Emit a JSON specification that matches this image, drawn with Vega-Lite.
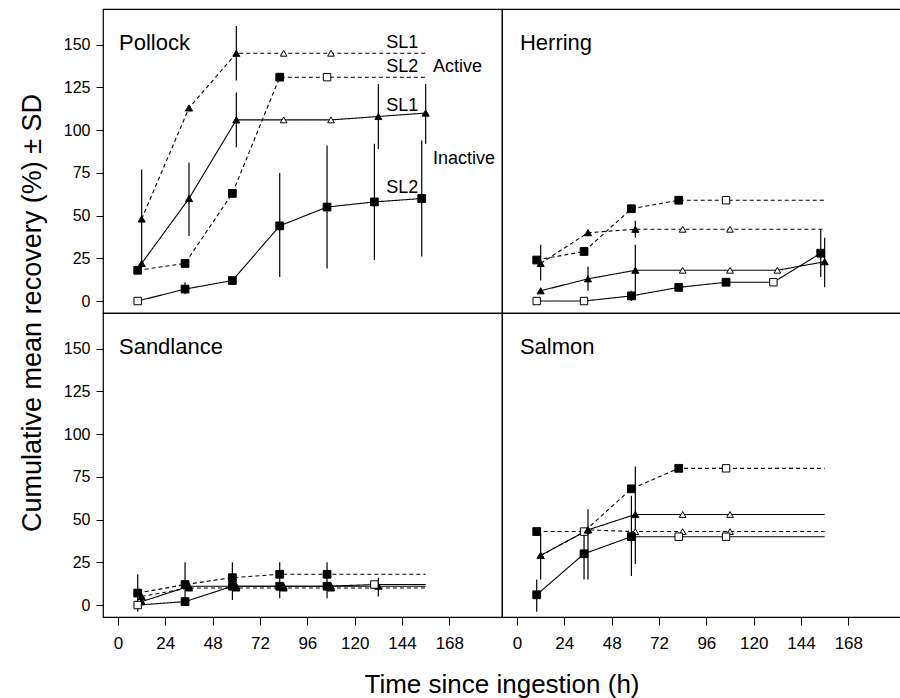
{
  "$schema": "https://vega.github.io/schema/vega-lite/v6.json",
  "background": "white",
  "padding": {"left": 18, "top": 8, "right": 0, "bottom": 0},
  "bounds": "flush",
  "config": {
    "font": "Liberation Sans",
    "view": {"stroke": "black", "strokeWidth": 1.2},
    "axis": {"grid": false, "domain": false, "tickColor": "black", "labelColor": "black", "labelFont": "Liberation Sans"},
    "axisX": {"tickSize": 8, "labelPadding": 10, "labelFontSize": 17},
    "axisY": {"tickSize": 7, "labelPadding": 6, "labelFontSize": 16},
    "header": {"titleFont": "Liberation Sans", "titleFontWeight": "normal", "titleFontSize": 26, "titleColor": "black"}
  },
  "data": {"values": [
    {"r":1,"c":1,"s":"SL1A","st":"A","t":12,"v":48,"lo":20,"hi":77,"m":"tri"},
    {"r":1,"c":1,"s":"SL1A","st":"A","t":36,"v":113,"m":"tri"},
    {"r":1,"c":1,"s":"SL1A","st":"A","t":60,"v":145,"lo":129,"hi":161,"m":"tri"},
    {"r":1,"c":1,"s":"SL1A","st":"A","t":84,"v":145,"m":"trio"},
    {"r":1,"c":1,"s":"SL1A","st":"A","t":108,"v":145,"m":"trio"},
    {"r":1,"c":1,"s":"SL1A","st":"A","t":156,"v":145,"m":"none"},
    {"r":1,"c":1,"s":"SL2A","st":"A","t":10,"v":18,"m":"sq"},
    {"r":1,"c":1,"s":"SL2A","st":"A","t":34,"v":22,"m":"sq"},
    {"r":1,"c":1,"s":"SL2A","st":"A","t":58,"v":63,"m":"sq"},
    {"r":1,"c":1,"s":"SL2A","st":"A","t":82,"v":131,"m":"sq"},
    {"r":1,"c":1,"s":"SL2A","st":"A","t":106,"v":131,"m":"sqo"},
    {"r":1,"c":1,"s":"SL2A","st":"A","t":156,"v":131,"m":"none"},
    {"r":1,"c":1,"s":"SL1I","st":"I","t":12,"v":22,"m":"tri"},
    {"r":1,"c":1,"s":"SL1I","st":"I","t":36,"v":60,"lo":38,"hi":81,"m":"tri"},
    {"r":1,"c":1,"s":"SL1I","st":"I","t":60,"v":106,"lo":90,"hi":122,"m":"tri"},
    {"r":1,"c":1,"s":"SL1I","st":"I","t":84,"v":106,"m":"trio"},
    {"r":1,"c":1,"s":"SL1I","st":"I","t":108,"v":106,"m":"trio"},
    {"r":1,"c":1,"s":"SL1I","st":"I","t":132,"v":108,"lo":89,"hi":127,"m":"tri"},
    {"r":1,"c":1,"s":"SL1I","st":"I","t":156,"v":110,"lo":92,"hi":127,"m":"tri"},
    {"r":1,"c":1,"s":"SL2I","st":"I","t":10,"v":0,"m":"sqo"},
    {"r":1,"c":1,"s":"SL2I","st":"I","t":34,"v":7,"lo":4,"hi":11,"m":"sq"},
    {"r":1,"c":1,"s":"SL2I","st":"I","t":58,"v":12,"m":"sq"},
    {"r":1,"c":1,"s":"SL2I","st":"I","t":82,"v":44,"lo":14,"hi":75,"m":"sq"},
    {"r":1,"c":1,"s":"SL2I","st":"I","t":106,"v":55,"lo":19,"hi":91,"m":"sq"},
    {"r":1,"c":1,"s":"SL2I","st":"I","t":130,"v":58,"lo":24,"hi":92,"m":"sq"},
    {"r":1,"c":1,"s":"SL2I","st":"I","t":154,"v":60,"lo":26,"hi":94,"m":"sq"},

    {"r":1,"c":2,"s":"SL2A","st":"A","t":10,"v":24,"m":"sq"},
    {"r":1,"c":2,"s":"SL2A","st":"A","t":34,"v":29,"m":"sq"},
    {"r":1,"c":2,"s":"SL2A","st":"A","t":58,"v":54,"m":"sq"},
    {"r":1,"c":2,"s":"SL2A","st":"A","t":82,"v":59,"m":"sq"},
    {"r":1,"c":2,"s":"SL2A","st":"A","t":106,"v":59,"m":"sqo"},
    {"r":1,"c":2,"s":"SL2A","st":"A","t":156,"v":59,"m":"none"},
    {"r":1,"c":2,"s":"SL1A","st":"A","t":12,"v":22,"lo":12,"hi":33,"m":"tri"},
    {"r":1,"c":2,"s":"SL1A","st":"A","t":36,"v":40,"m":"tri"},
    {"r":1,"c":2,"s":"SL1A","st":"A","t":60,"v":42,"lo":37,"hi":47,"m":"tri"},
    {"r":1,"c":2,"s":"SL1A","st":"A","t":84,"v":42,"m":"trio"},
    {"r":1,"c":2,"s":"SL1A","st":"A","t":108,"v":42,"m":"trio"},
    {"r":1,"c":2,"s":"SL1A","st":"A","t":156,"v":42,"m":"none"},
    {"r":1,"c":2,"s":"SL1I","st":"I","t":12,"v":6,"m":"tri"},
    {"r":1,"c":2,"s":"SL1I","st":"I","t":36,"v":13,"lo":6,"hi":20,"m":"tri"},
    {"r":1,"c":2,"s":"SL1I","st":"I","t":60,"v":18,"lo":1,"hi":33,"m":"tri"},
    {"r":1,"c":2,"s":"SL1I","st":"I","t":84,"v":18,"m":"trio"},
    {"r":1,"c":2,"s":"SL1I","st":"I","t":108,"v":18,"m":"trio"},
    {"r":1,"c":2,"s":"SL1I","st":"I","t":132,"v":18,"m":"trio"},
    {"r":1,"c":2,"s":"SL1I","st":"I","t":156,"v":23,"lo":8,"hi":37,"m":"tri"},
    {"r":1,"c":2,"s":"SL2I","st":"I","t":10,"v":0,"m":"sqo"},
    {"r":1,"c":2,"s":"SL2I","st":"I","t":34,"v":0,"m":"sqo"},
    {"r":1,"c":2,"s":"SL2I","st":"I","t":58,"v":3,"lo":0,"hi":6,"m":"sq"},
    {"r":1,"c":2,"s":"SL2I","st":"I","t":82,"v":8,"m":"sq"},
    {"r":1,"c":2,"s":"SL2I","st":"I","t":106,"v":11,"m":"sq"},
    {"r":1,"c":2,"s":"SL2I","st":"I","t":130,"v":11,"m":"sqo"},
    {"r":1,"c":2,"s":"SL2I","st":"I","t":154,"v":28,"lo":14,"hi":42,"m":"sq"},

    {"r":2,"c":1,"s":"SL2A","st":"A","t":10,"v":7,"lo":-4,"hi":18,"m":"sq"},
    {"r":2,"c":1,"s":"SL2A","st":"A","t":34,"v":12,"lo":1,"hi":25,"m":"sq"},
    {"r":2,"c":1,"s":"SL2A","st":"A","t":58,"v":16,"lo":3,"hi":25,"m":"sq"},
    {"r":2,"c":1,"s":"SL2A","st":"A","t":82,"v":18,"lo":4,"hi":25,"m":"sq"},
    {"r":2,"c":1,"s":"SL2A","st":"A","t":106,"v":18,"lo":4,"hi":25,"m":"sq"},
    {"r":2,"c":1,"s":"SL2A","st":"A","t":156,"v":18,"m":"none"},
    {"r":2,"c":1,"s":"SL1A","st":"A","t":12,"v":5,"m":"tri"},
    {"r":2,"c":1,"s":"SL1A","st":"A","t":36,"v":10,"m":"tri"},
    {"r":2,"c":1,"s":"SL1A","st":"A","t":60,"v":10,"m":"tri"},
    {"r":2,"c":1,"s":"SL1A","st":"A","t":84,"v":10,"m":"tri"},
    {"r":2,"c":1,"s":"SL1A","st":"A","t":108,"v":10,"m":"tri"},
    {"r":2,"c":1,"s":"SL1A","st":"A","t":156,"v":10,"m":"none"},
    {"r":2,"c":1,"s":"SL1I","st":"I","t":12,"v":2,"m":"tri"},
    {"r":2,"c":1,"s":"SL1I","st":"I","t":36,"v":11,"m":"tri"},
    {"r":2,"c":1,"s":"SL1I","st":"I","t":60,"v":11,"m":"tri"},
    {"r":2,"c":1,"s":"SL1I","st":"I","t":84,"v":11,"m":"tri"},
    {"r":2,"c":1,"s":"SL1I","st":"I","t":108,"v":11,"m":"tri"},
    {"r":2,"c":1,"s":"SL1I","st":"I","t":132,"v":11,"lo":5,"hi":16,"m":"tri"},
    {"r":2,"c":1,"s":"SL1I","st":"I","t":156,"v":11,"m":"none"},
    {"r":2,"c":1,"s":"SL2I","st":"I","t":10,"v":0,"m":"sqo"},
    {"r":2,"c":1,"s":"SL2I","st":"I","t":34,"v":2,"m":"sq"},
    {"r":2,"c":1,"s":"SL2I","st":"I","t":58,"v":11,"m":"sq"},
    {"r":2,"c":1,"s":"SL2I","st":"I","t":82,"v":11,"m":"sq"},
    {"r":2,"c":1,"s":"SL2I","st":"I","t":106,"v":11,"m":"sq"},
    {"r":2,"c":1,"s":"SL2I","st":"I","t":130,"v":12,"m":"sqo"},
    {"r":2,"c":1,"s":"SL2I","st":"I","t":156,"v":12,"m":"none"},

    {"r":2,"c":2,"s":"SL2A","st":"A","t":10,"v":43,"m":"sq"},
    {"r":2,"c":2,"s":"SL2A","st":"A","t":34,"v":43,"m":"sqo"},
    {"r":2,"c":2,"s":"SL2A","st":"A","t":58,"v":68,"m":"sq"},
    {"r":2,"c":2,"s":"SL2A","st":"A","t":82,"v":80,"m":"sq"},
    {"r":2,"c":2,"s":"SL2A","st":"A","t":106,"v":80,"m":"sqo"},
    {"r":2,"c":2,"s":"SL2A","st":"A","t":156,"v":80,"m":"none"},
    {"r":2,"c":2,"s":"SL1A","st":"A","t":12,"v":29,"m":"tri"},
    {"r":2,"c":2,"s":"SL1A","st":"A","t":36,"v":44,"m":"tri"},
    {"r":2,"c":2,"s":"SL1A","st":"A","t":60,"v":43,"m":"trio"},
    {"r":2,"c":2,"s":"SL1A","st":"A","t":84,"v":43,"m":"trio"},
    {"r":2,"c":2,"s":"SL1A","st":"A","t":108,"v":43,"m":"trio"},
    {"r":2,"c":2,"s":"SL1A","st":"A","t":156,"v":43,"m":"none"},
    {"r":2,"c":2,"s":"SL1I","st":"I","t":12,"v":29,"lo":15,"hi":42,"m":"tri"},
    {"r":2,"c":2,"s":"SL1I","st":"I","t":36,"v":44,"lo":15,"hi":56,"m":"tri"},
    {"r":2,"c":2,"s":"SL1I","st":"I","t":60,"v":53,"lo":24,"hi":81,"m":"tri"},
    {"r":2,"c":2,"s":"SL1I","st":"I","t":84,"v":53,"m":"trio"},
    {"r":2,"c":2,"s":"SL1I","st":"I","t":108,"v":53,"m":"trio"},
    {"r":2,"c":2,"s":"SL1I","st":"I","t":156,"v":53,"m":"none"},
    {"r":2,"c":2,"s":"SL2I","st":"I","t":10,"v":6,"lo":-4,"hi":15,"m":"sq"},
    {"r":2,"c":2,"s":"SL2I","st":"I","t":34,"v":30,"lo":15,"hi":43,"m":"sq"},
    {"r":2,"c":2,"s":"SL2I","st":"I","t":58,"v":40,"lo":17,"hi":64,"m":"sq"},
    {"r":2,"c":2,"s":"SL2I","st":"I","t":82,"v":40,"m":"sqo"},
    {"r":2,"c":2,"s":"SL2I","st":"I","t":106,"v":40,"m":"sqo"},
    {"r":2,"c":2,"s":"SL2I","st":"I","t":156,"v":40,"m":"none"},

    {"r":1,"c":1,"lab":"Pollock","t":0.5,"v":151},
    {"r":1,"c":2,"lab":"Herring","t":1.5,"v":151},
    {"r":2,"c":1,"lab":"Sandlance","t":0.5,"v":151},
    {"r":2,"c":2,"lab":"Salmon","t":1.5,"v":151},

    {"r":1,"c":1,"ann":"SL1","t":136,"v":151},
    {"r":1,"c":1,"ann":"SL2","t":136,"v":137},
    {"r":1,"c":1,"ann":"Active","t":159.7,"v":137},
    {"r":1,"c":1,"ann":"SL1","t":136,"v":114},
    {"r":1,"c":1,"ann":"Inactive","t":159.7,"v":83},
    {"r":1,"c":1,"ann":"SL2","t":136,"v":66}
  ]},
  "facet": {
    "row": {"field": "r", "type": "ordinal", "header": {"labels": false, "title": "Cumulative mean recovery (%) ± SD", "titleOrient": "left", "titlePadding": 6, "titleFontSize": 27}},
    "column": {"field": "c", "type": "ordinal", "header": {"labels": false, "title": "Time since ingestion (h)", "titleOrient": "bottom", "labelOrient": "bottom", "titlePadding": 11}}
  },
  "spacing": {"row": 0, "column": 0},
  "spec": {
    "width": 399,
    "height": 304,
    "layer": [
      {
        "transform": [{"filter": "isValid(datum.lo)"}],
        "mark": {"type": "rule", "color": "black", "strokeWidth": 1.2},
        "encoding": {
          "x": {"field": "t", "type": "quantitative", "scale": {"domain": [-7.6, 194.7], "nice": false, "zero": false}, "axis": {"title": null, "values": [0, 24, 48, 72, 96, 120, 144, 168]}},
          "y": {"field": "lo", "type": "quantitative", "scale": {"domain": [-7, 170.9], "nice": false, "zero": false}, "axis": {"title": null, "values": [0, 25, 50, 75, 100, 125, 150]}},
          "y2": {"field": "hi"}
        }
      },
      {
        "transform": [{"filter": "isValid(datum.s)"}],
        "mark": {"type": "line", "color": "black", "strokeWidth": 1.1},
        "encoding": {
          "x": {"field": "t", "type": "quantitative"},
          "y": {"field": "v", "type": "quantitative"},
          "detail": {"field": "s"},
          "strokeDash": {"field": "st", "type": "nominal", "scale": {"domain": ["A", "I"], "range": [[4, 3], [1, 0]]}, "legend": null}
        }
      },
      {
        "transform": [{"filter": "isValid(datum.s) && datum.m != 'none'"}],
        "mark": {"type": "point", "filled": true, "stroke": "black", "strokeWidth": 1, "opacity": 1},
        "encoding": {
          "x": {"field": "t", "type": "quantitative"},
          "y": {"field": "v", "type": "quantitative"},
          "shape": {"field": "m", "type": "nominal", "scale": {"domain": ["sq", "sqo", "tri", "trio"], "range": ["square", "square", "triangle-up", "triangle-up"]}, "legend": null},
          "fill": {"field": "m", "type": "nominal", "scale": {"domain": ["sq", "sqo", "tri", "trio"], "range": ["black", "white", "black", "white"]}, "legend": null},
          "size": {"field": "m", "type": "nominal", "scale": {"domain": ["sq", "sqo", "tri", "trio"], "range": [60, 45, 55, 38]}, "legend": null}
        }
      },
      {
        "transform": [{"filter": "isValid(datum.lab)"}],
        "mark": {"type": "text", "align": "left", "baseline": "middle", "fontSize": 22, "color": "black", "font": "Liberation Sans"},
        "encoding": {
          "x": {"field": "t", "type": "quantitative"},
          "y": {"field": "v", "type": "quantitative"},
          "text": {"field": "lab"}
        }
      },
      {
        "transform": [{"filter": "isValid(datum.ann)"}],
        "mark": {"type": "text", "align": "left", "baseline": "middle", "fontSize": 18, "color": "black", "font": "Liberation Sans"},
        "encoding": {
          "x": {"field": "t", "type": "quantitative"},
          "y": {"field": "v", "type": "quantitative"},
          "text": {"field": "ann"}
        }
      }
    ]
  }
}
